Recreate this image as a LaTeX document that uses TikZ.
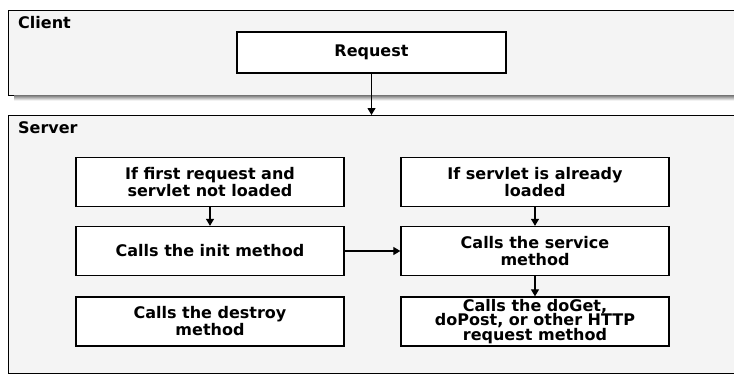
\documentclass[tikz,border=0pt]{standalone}
\usepackage{fontspec}
\setmainfont{DejaVu Sans}
\usetikzlibrary{arrows.meta}
\definecolor{panel}{gray}{0.955}
\definecolor{shade}{gray}{0.4}

\begin{document}
\begin{tikzpicture}[x=1pt,y=-1pt,
	box/.style={draw=black, line width=1.3pt, fill=white, minimum width=268pt,
		minimum height=49pt, inner sep=0pt, align=center,
		font=\bfseries\fontsize{16}{17}\selectfont},
	title/.style={anchor=west, inner sep=0pt, font=\bfseries\fontsize{16}{18}\selectfont},
	flow/.style={-{Triangle[length=7pt,width=8pt]}, line width=1.1pt}]
	\clip (0,0) rectangle (734,375);
	\fill[white] (0,0) rectangle (734,375);

	% client panel
	\draw[fill=panel, line width=1pt] (8,10) rectangle (745,95);
	\fill[shade] (14,95.5) rectangle (745,100.5);
	\node[title] (client) at (18,23) {Client};
	\node[box, minimum width=269pt, minimum height=41pt] (request) at (371.5,52.5) {Request};

	% server panel
	\draw[fill=panel, line width=1pt] (8,115) rectangle (745,373);
	\node[title] (server) at (18,128) {Server};
	\coordinate (srvtop) at (request.south |- 0,115);

	\node[box] (first)   at (210,182) {If first request and\\servlet not loaded};
	\node[box] (init)    at (210,251) {Calls the init method};
	\node[box] (destroy) at (210,321.5) {Calls the destroy\\method};
	\node[box] (loaded)  at (535,182) {If servlet is already\\loaded};
	\node[box] (service) at (535,251) {Calls the service\\method};
	\node[box, font=\bfseries\fontsize{16}{14.5}\selectfont] (doget) at (535,321.5)
		{Calls the doGet,\\doPost, or other HTTP\\request method};

	\draw[flow] (request) -- (srvtop);
	\draw[flow] (first) -- (init);
	\draw[flow] (loaded) -- (service);
	\draw[flow] (service) -- (doget);
	\draw[flow] (init) -- (service);
\end{tikzpicture}
\end{document}
